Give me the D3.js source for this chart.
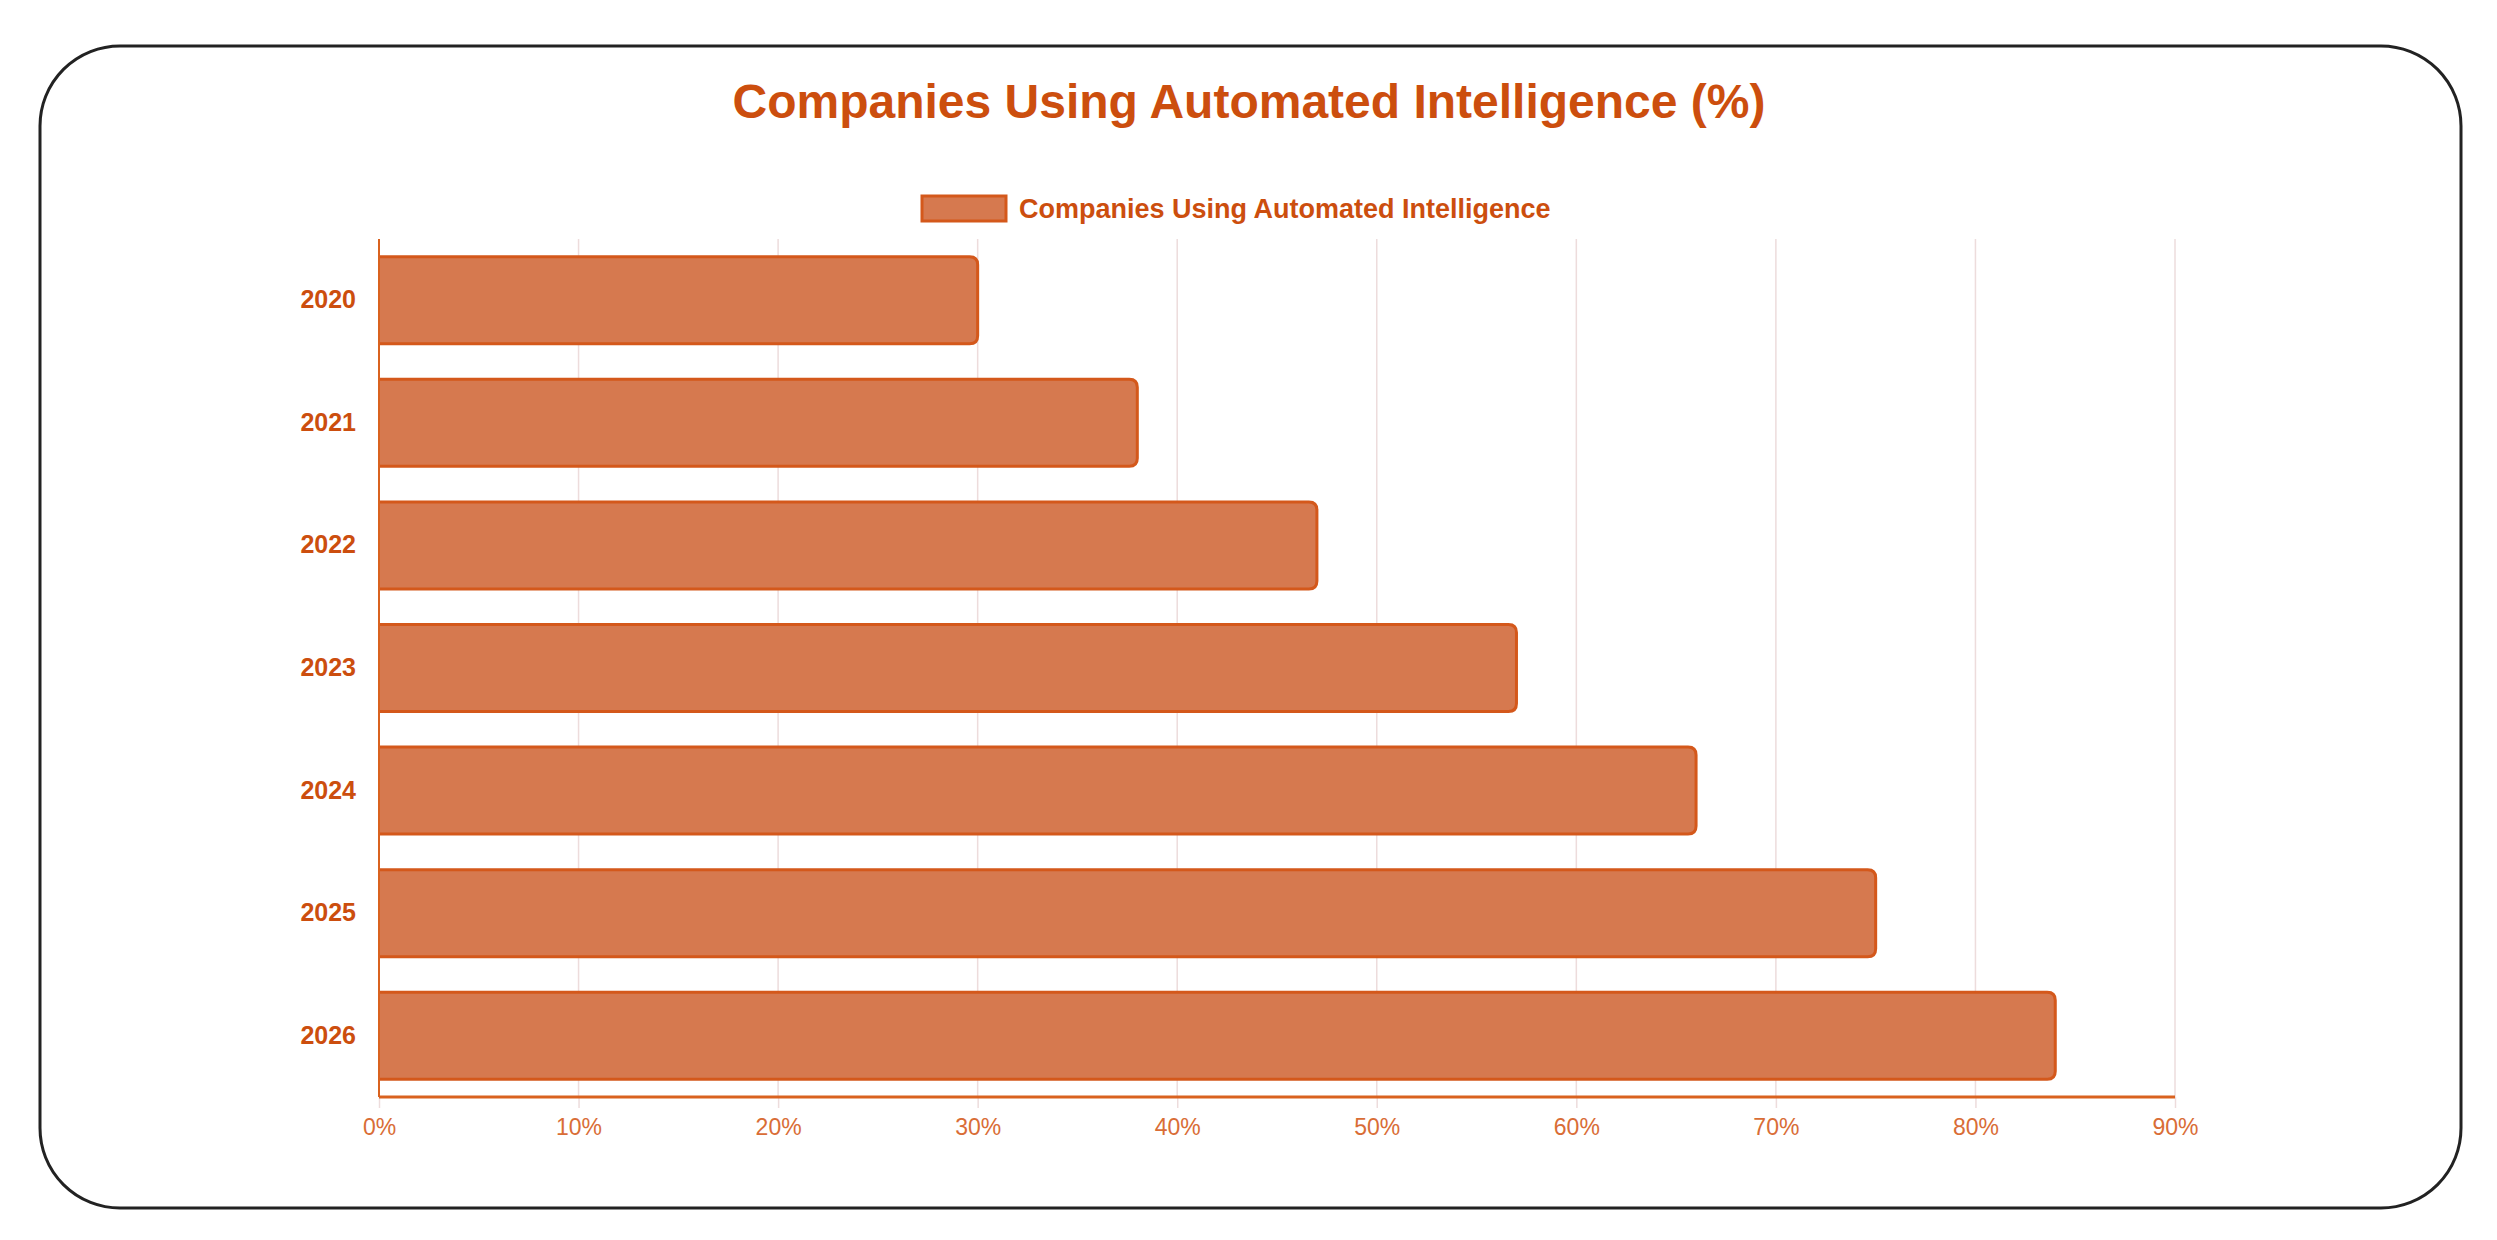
<!DOCTYPE html>
<html>
<head>
<meta charset="utf-8">
<script src="https://cdn.jsdelivr.net/npm/d3@7"></script>
<style>
  html, body { margin: 0; padding: 0; background: #fff; }
  svg { display: block; }
  text { font-family: 'Liberation Sans', Arial, Helvetica, sans-serif; }
</style>
</head>
<body>
<svg id="chart"></svg>
<script>
const years = ['2020', '2021', '2022', '2023', '2024', '2025', '2026']
const adoption = [30, 38, 47, 57, 66, 75, 84]
const xTicks = [0, 10, 20, 30, 40, 50, 60, 70, 80, 90]
const seriesName = 'Companies Using Automated Intelligence'
const chartTitle = 'Companies Using Automated Intelligence (%)'

const width = 2497
const height = 1240

const barFill = '#d6794f'
const barStroke = '#d4581b'
const axisColor = '#d9621f'
const gridColor = '#eddcdc'
const titleColor = '#cc4e0e'
const tickColor = '#d96d36'

const svg = d3.select('#chart')
  .attr('width', width)
  .attr('height', height)
  .attr('viewBox', `0 0 ${width} ${height}`)

// card outline
svg.append('rect')
  .attr('x', 40).attr('y', 46)
  .attr('width', 2421).attr('height', 1162)
  .attr('rx', 80).attr('ry', 80)
  .attr('fill', '#fff')
  .attr('stroke', '#222')
  .attr('stroke-width', 3)

svg.append('text')
  .attr('x', 1249)
  .attr('y', 118)
  .attr('text-anchor', 'middle')
  .attr('font-weight', 'bold')
  .attr('font-size', 48)
  .attr('fill', titleColor)
  .text(chartTitle)

// legend
const legend = svg.append('g').attr('transform', 'translate(922,196)')
legend.append('rect')
  .attr('width', 84).attr('height', 25)
  .attr('fill', barFill)
  .attr('stroke', barStroke)
  .attr('stroke-width', 3)
legend.append('text')
  .attr('x', 97)
  .attr('y', 12.5)
  .attr('dy', '0.35em')
  .attr('font-weight', 'bold')
  .attr('font-size', 27)
  .attr('fill', titleColor)
  .text(seriesName)

const margin = { top: 239, right: 322, bottom: 143, left: 379 }
const innerW = width - margin.left - margin.right
const innerH = height - margin.top - margin.bottom

const g = svg.append('g').attr('transform', `translate(${margin.left},${margin.top})`)

const x = d3.scaleLinear().domain([0, 90]).range([0, innerW])
const y = d3.scaleBand().domain(years).range([0, innerH]).paddingInner(0.29).paddingOuter(0.145)

// vertical grid
g.append('g')
  .selectAll('line')
  .data(xTicks)
  .join('line')
  .attr('x1', d => x(d)).attr('x2', d => x(d))
  .attr('y1', 0).attr('y2', innerH)
  .attr('stroke', gridColor)
  .attr('stroke-width', 1.5)

const xAxis = g.append('g')
  .attr('transform', `translate(0,${innerH})`)
  .call(d3.axisBottom(x).tickValues(xTicks).tickSizeInner(11).tickSizeOuter(0).tickPadding(11).tickFormat(d => d + '%'))
xAxis.select('.domain').remove()
xAxis.selectAll('line').attr('stroke', gridColor).attr('stroke-width', 1.5)
xAxis.selectAll('text')
  .attr('font-size', 23)
  .attr('font-family', null)
  .attr('fill', tickColor)

const yAxis = g.append('g')
  .call(d3.axisLeft(y).tickSize(0).tickPadding(23))
yAxis.select('.domain').remove()
yAxis.selectAll('text')
  .attr('font-size', 25)
  .attr('font-weight', 'bold')
  .attr('font-family', null)
  .attr('fill', titleColor)

const rows = years.map((year, i) => ({ year, value: adoption[i] }))

// bar shape: square on the left, rounded on the right, no left border
function barPath(d) {
  const x0 = 0
  const x1 = x(d.value)
  const y0 = y(d.year)
  const y1 = y0 + y.bandwidth()
  const r = 8
  return `M${x0},${y0}H${x1 - r}Q${x1},${y0} ${x1},${y0 + r}V${y1 - r}Q${x1},${y1} ${x1 - r},${y1}H${x0}`
}

g.append('g')
  .selectAll('path')
  .data(rows)
  .join('path')
  .attr('d', barPath)
  .attr('fill', barFill)
  .attr('stroke', barStroke)
  .attr('stroke-width', 3)
  .attr('stroke-linejoin', 'round')

// axis lines
g.append('line')
  .attr('x1', 0).attr('x2', 0)
  .attr('y1', 0).attr('y2', innerH)
  .attr('stroke', axisColor)
  .attr('stroke-width', 2)

g.append('line')
  .attr('x1', 0).attr('x2', innerW)
  .attr('y1', innerH).attr('y2', innerH)
  .attr('stroke', axisColor)
  .attr('stroke-width', 3)
</script>
</body>
</html>
